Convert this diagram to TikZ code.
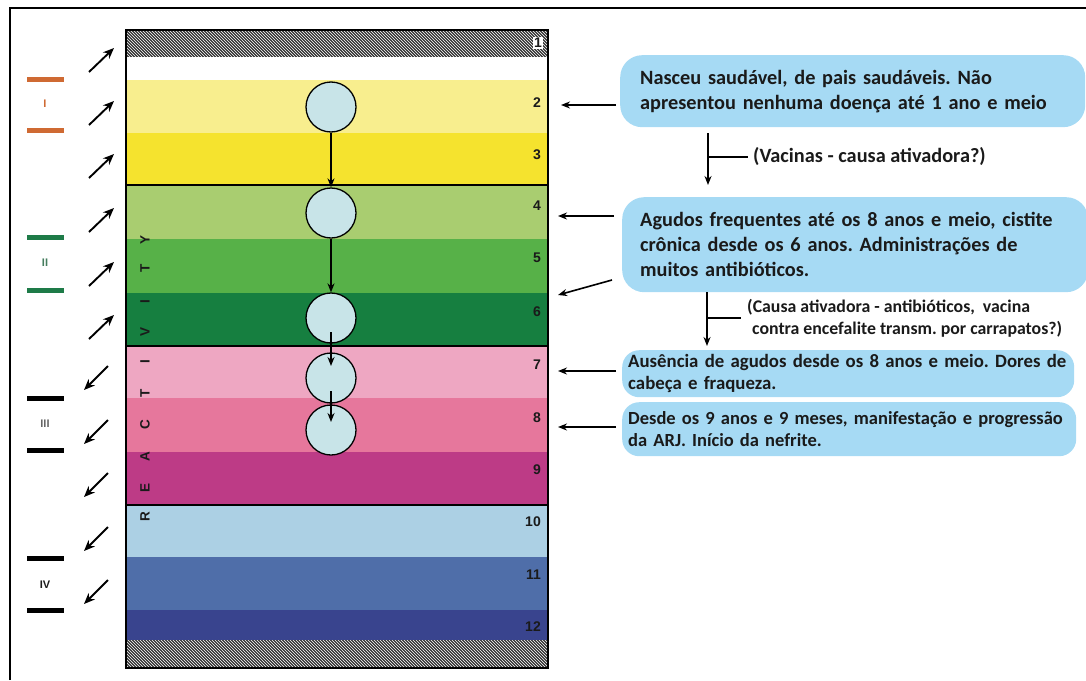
\documentclass[tikz,border=0pt]{standalone}
\usepackage{fontspec}
\setmainfont{Carlito}
\newfontfamily\arialf{Liberation Sans}
\usetikzlibrary{patterns,arrows.meta}
\definecolor{bandB}{HTML}{F8EE8E}
\definecolor{bandC}{HTML}{F5E32E}
\definecolor{bandD}{HTML}{A9CD70}
\definecolor{bandE}{HTML}{57B148}
\definecolor{bandF}{HTML}{167F40}
\definecolor{bandG}{HTML}{EEA7C2}
\definecolor{bandH}{HTML}{E6779C}
\definecolor{bandI}{HTML}{BD3B86}
\definecolor{bandJ}{HTML}{ACD0E4}
\definecolor{bandK}{HTML}{4F6EA9}
\definecolor{bandL}{HTML}{39448E}
\definecolor{circfill}{HTML}{C8E4E8}
\definecolor{boxfill}{HTML}{A6DAF4}
\definecolor{orangebar}{HTML}{CF6A33}
\definecolor{greenbar}{HTML}{1E7B48}
\definecolor{ink}{HTML}{1A1A1A}
\frenchspacing
\hyphenpenalty=10000
\tikzset{
  arr/.style={draw=black, line width=1.6pt, -{Stealth[length=9pt,width=7pt]}},
  darr/.style={draw=black, line width=1.9pt, -{Stealth[length=11pt,width=9pt]}},
  circ/.style={circle, draw=black, line width=1.3pt, fill=circfill, minimum size=50pt, inner sep=0pt},
  num/.style={anchor=east, font=\arialf\bfseries\fontsize{14}{14}\selectfont, text=ink, inner sep=0pt},
  letter/.style={font=\arialf\bfseries\fontsize{13.5}{13.5}\selectfont, text=ink, rotate=90, inner sep=0pt},
  infobox/.style={draw=none, fill=boxfill, rounded corners=22pt, anchor=north west, align=left, text=ink},
  bar/.style={line width=5pt},
  roman/.style={font=\arialf\bfseries\fontsize{11}{11}\selectfont, inner sep=0pt},
  note/.style={anchor=west, align=left, text=ink, inner sep=0pt, font=\bfseries\fontsize{20.3}{21}\selectfont}
}
\begin{document}
\begin{tikzpicture}[x=1pt,y=-1pt]
\useasboundingbox (0,0) rectangle (1086,680);
% frame (top and left)
\draw[line width=2.5pt] (10,680) -- (10,8) -- (1086,8);
% bands
\fill[white] (126,57) rectangle (548,80);
\fill[bandB] (126,80) rectangle (548,133);
\fill[bandC] (126,133) rectangle (548,185);
\fill[bandD] (126,185) rectangle (548,239);
\fill[bandE] (126,239) rectangle (548,293);
\fill[bandF] (126,293) rectangle (548,346);
\fill[bandG] (126,346) rectangle (548,398);
\fill[bandH] (126,398) rectangle (548,452);
\fill[bandI] (126,452) rectangle (548,505);
\fill[bandJ] (126,505) rectangle (548,557);
\fill[bandK] (126,557) rectangle (548,610);
\fill[bandL] (126,610) rectangle (548,640);
% hatched ends
\fill[black!80] (126,30) rectangle (548,57);
\fill[pattern=north west lines, pattern color=white] (126,30) rectangle (548,57);
\fill[black!80] (126,640) rectangle (548,668);
\fill[pattern=north west lines, pattern color=white] (126,640) rectangle (548,668);
% separators
\draw[line width=1.4pt] (126,185) -- (548,185);
\draw[line width=1.4pt] (126,346) -- (548,346);
\draw[line width=1.4pt] (126,505) -- (548,505);
\draw[line width=1.2pt] (126,30) rectangle (548,668);
% numbers
\node[num, fill=white, inner sep=1pt] (n1) at (543,43) {1};
\node[num] (n2) at (541,103) {2};
\node[num] (n3) at (541,155) {3};
\node[num] (n4) at (541,206) {4};
\node[num] (n5) at (541,258) {5};
\node[num] (n6) at (541,312) {6};
\node[num] (n7) at (541,365) {7};
\node[num] (n8) at (541,418) {8};
\node[num] (n9) at (541,470) {9};
\node[num] (n10) at (541,522) {10};
\node[num] (n11) at (541,575) {11};
\node[num] (n12) at (541,627) {12};
% REACTIVITY letters
\foreach \l/\yy [count=\i] in {R/517,E/488,A/457,C/425,T/393,I/362,V/332,I/302,T/268,Y/240}
  \node[letter] (let\i) at (145,\yy) {\l};
% circles
\node[circ] (c1) at (331,107) {};
\node[circ] (c2) at (331,213) {};
\node[circ] (c3) at (331,318) {};
\node[circ] (c4) at (331,378) {};
\node[circ] (c5) at (331,430) {};
\draw[arr] (c1.south) -- (c2.north);
\draw[arr] (c2.south) -- (c3.north);
\draw[arr] ([yshift=-14pt]c3.center) -- ([yshift=12pt]c4.center);
\draw[arr] ([yshift=-13pt]c4.center) -- ([yshift=8pt]c5.center);
% left roman groups
\draw[bar, orangebar] (27,79) -- (64,79);
\draw[bar, orangebar] (27,130) -- (64,130);
\node[roman, text=orangebar] (r1) at (45,104) {I};
\draw[bar, greenbar] (27,237) -- (64,237);
\draw[bar, greenbar] (27,290) -- (64,290);
\node[roman, text=greenbar!60!gray] (r2) at (45,263) {II};
\draw[bar, black] (27,398) -- (64,398);
\draw[bar, black] (27,450) -- (64,450);
\node[roman, text=black!60] (r3) at (45,424) {III};
\draw[bar, black] (27,558) -- (64,558);
\draw[bar, black] (27,610) -- (64,610);
\node[roman, text=ink] (r4) at (45,585) {IV};
% left diagonal arrows
\foreach \yy [count=\i] in {60,113,166,220,274,327}{
  \coordinate (ua\i) at (89,\yy+12);
  \coordinate (ub\i) at (114,\yy-12);
  \draw[darr] (ua\i) -- (ub\i);
}
\foreach \yy [count=\i] in {378,432,485,539,592}{
  \coordinate (da\i) at (108,\yy-12);
  \coordinate (db\i) at (84,\yy+12);
  \draw[darr] (da\i) -- (db\i);
}
% right boxes
\node[infobox, minimum width=447pt, text width=425pt, minimum height=72pt, inner xsep=20pt,
  font=\bfseries\fontsize{20.3}{25}\selectfont] (B1) at (620,55)
  {Nasceu saudável, de pais saudáveis. Não\\apresentou nenhuma doença até 1 ano e meio};
\node[infobox, minimum width=451pt, text width=430pt, minimum height=95pt, inner xsep=18pt,
  font=\bfseries\fontsize{20.3}{25}\selectfont] (B2) at (622,197)
  {Agudos frequentes até os 8 anos e meio, cistite\\crônica desde os 6 anos. Administrações de\\muitos antibióticos.};
\node[infobox, rounded corners=17pt, minimum width=446pt, text width=440pt, minimum height=47pt, inner xsep=6pt, inner ysep=2pt,
  font=\bfseries\fontsize{18.8}{22}\selectfont] (B3) at (622,350)
  {Ausência de agudos desde os 8 anos e meio. Dores de\\cabeça e fraqueza.};
\node[infobox, rounded corners=17pt, minimum width=448pt, text width=442pt, minimum height=54pt, inner xsep=6pt, inner ysep=2pt,
  font=\bfseries\fontsize{18.5}{22}\selectfont] (B4) at (622,402)
  {Desde os 9 anos e 9 meses, manifestação e progressão\\da ARJ. Início da nefrite.};
% arrows from boxes to column
\coordinate (e1) at (561,105);
\coordinate (e2) at (558,216);
\coordinate (e3) at (558,295);
\coordinate (e4) at (558,371);
\coordinate (e5) at (558,427);
\draw[arr] (B1.west |- e1) ++(-4,0) -- (e1);
\draw[arr] (614,216) -- (e2);
\draw[arr] (612,280) -- (e3);
\draw[arr] (B3.west |- e4) ++(-6,0) -- (e4);
\draw[arr] (B4.west |- e5) ++(-6,0) -- (e5);
% vertical arrows with notes
\node[note] (t1) at (753,157) {(Vacinas - causa ativadora?)};
\coordinate (v1a) at (708,133);
\coordinate (v1b) at (708,185);
\draw[arr] (v1a) -- (v1b);
\draw[line width=1.2pt] (708,157) -- ([xshift=-5pt]t1.west);
\node[note, font=\bfseries\fontsize{17.8}{22}\selectfont] (t2) at (747,318)
  {(Causa ativadora - antibióticos,~ vacina\\\hspace*{5pt}contra encefalite transm. por carrapatos?)};
\coordinate (v2a) at (707,292);
\coordinate (v2b) at (707,346);
\draw[arr] (v2a) -- (v2b);
\draw[line width=1.2pt] (707,318) -- (741,318);
\end{tikzpicture}
\end{document}
